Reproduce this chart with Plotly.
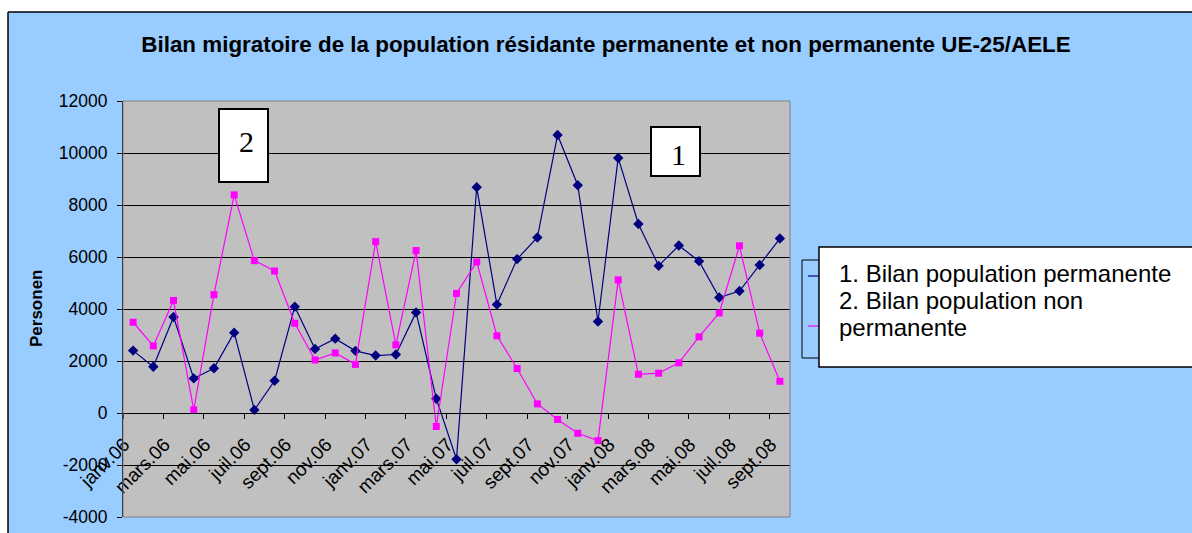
import plotly.graph_objects as go

months = ["janv.06", "févr.06", "mars.06", "avr.06", "mai.06", "juin.06", "juil.06", "août.06",
          "sept.06", "oct.06", "nov.06", "déc.06", "janv.07", "févr.07", "mars.07", "avr.07",
          "mai.07", "juin.07", "juil.07", "août.07", "sept.07", "oct.07", "nov.07", "déc.07",
          "janv.08", "févr.08", "mars.08", "avr.08", "mai.08", "juin.08", "juil.08", "août.08",
          "sept.08"]

permanent = [2400, 1780, 3690, 1330, 1720, 3090, 120, 1240, 4090, 2460, 2860, 2390, 2210,
             2250, 3870, 550, -1780, 8680, 4170, 5920, 6750, 10690, 8760, 3520, 9810, 7270,
             5660, 6440, 5840, 4440, 4690, 5690, 6710]
non_permanent = [3490, 2580, 4330, 120, 4550, 8390, 5860, 5460, 3450, 2040, 2310, 1870, 6590,
                 2620, 6250, -520, 4600, 5810, 2970, 1710, 350, -250, -780, -1060, 5120, 1490,
                 1530, 1930, 2930, 3850, 6430, 3070, 1220]

y_ticks = list(range(-4000, 12001, 2000))
title = "Bilan migratoire de la population résidante permanente et non permanente UE-25/AELE"
legend_lines = ["1. Bilan population permanente", "2. Bilan population non", "permanente"]

W, H = 1192, 533
L, R, T, B = 123, 790, 101, 517


def px(x):
    return (x - L) / (R - L)


def py(y):
    return (B - y) / (B - T)


fig = go.Figure()
fig.add_trace(go.Scatter(x=months, y=permanent, mode="lines+markers", name=legend_lines[0],
                         line=dict(color="#000080", width=1.2),
                         marker=dict(symbol="diamond", size=8, color="#000080")))
fig.add_trace(go.Scatter(x=months, y=non_permanent, mode="lines+markers", name="2. Bilan population non permanente",
                         line=dict(color="#FF00FF", width=1.2),
                         marker=dict(symbol="square", size=7, color="#FF00FF")))

shapes = [
    # white page outside the chart frame
    dict(type="rect", xref="paper", yref="paper", x0=px(-20), x1=px(W + 20), y0=py(12), y1=py(-20),
         fillcolor="white", line=dict(width=0)),
    dict(type="rect", xref="paper", yref="paper", x0=px(-20), x1=px(8), y0=py(-20), y1=py(H + 20),
         fillcolor="white", line=dict(width=0)),
    dict(type="line", xref="paper", yref="paper", x0=px(8), x1=px(W + 20), y0=py(12), y1=py(12),
         line=dict(color="black", width=1.5)),
    dict(type="line", xref="paper", yref="paper", x0=px(8), x1=px(8), y0=py(12), y1=py(H + 20),
         line=dict(color="black", width=1.5)),
    # plot frame
    dict(type="rect", xref="paper", yref="paper", x0=0, x1=1, y0=0, y1=1,
         line=dict(color="#808080", width=1)),
    # original small legend behind the text box
    dict(type="rect", xref="paper", yref="paper", x0=px(802), x1=px(840), y0=py(260), y1=py(358),
         line=dict(color="black", width=1)),
    dict(type="line", xref="paper", yref="paper", x0=px(808), x1=px(822), y0=py(276), y1=py(276),
         line=dict(color="#000080", width=1.2)),
    dict(type="line", xref="paper", yref="paper", x0=px(808), x1=px(822), y0=py(326), y1=py(326),
         line=dict(color="#FF00FF", width=1.2)),
    # text box legend
    dict(type="rect", xref="paper", yref="paper", x0=px(819), x1=px(W + 20), y0=py(247), y1=py(367),
         fillcolor="white", line=dict(color="black", width=1.5)),
    # series label boxes
    dict(type="rect", xref="paper", yref="paper", x0=px(219), x1=px(268), y0=py(109), y1=py(182),
         fillcolor="white", line=dict(color="black", width=2)),
    dict(type="rect", xref="paper", yref="paper", x0=px(651), x1=px(700), y0=py(127), y1=py(176),
         fillcolor="white", line=dict(color="black", width=2)),
]

annotations = [
    dict(text="2", x=px(246), y=py(141), xref="paper", yref="paper", showarrow=False,
         xanchor="center", yanchor="middle",
         font=dict(family="Liberation Serif", size=30, color="black")),
    dict(text="1", x=px(678), y=py(154), xref="paper", yref="paper", showarrow=False,
         xanchor="center", yanchor="middle",
         font=dict(family="Liberation Serif", size=30, color="black")),
    dict(text="<b>Personen</b>", x=px(36), y=py(309), xref="paper", yref="paper", showarrow=False,
         xanchor="center", yanchor="middle", textangle=-90,
         font=dict(family="Liberation Sans", size=17, color="black")),
]
for i, line in enumerate(legend_lines):
    annotations.append(dict(text=line, x=px(837), y=py(273 + 27 * i), xref="paper", yref="paper",
                            xanchor="left", yanchor="middle", showarrow=False,
                            font=dict(family="Liberation Sans", size=24, color="black")))

fig.update_layout(
    width=W, height=H,
    margin=dict(l=L, r=W - R, t=T, b=H - B, pad=0, autoexpand=False),
    paper_bgcolor="#99CCFF",
    plot_bgcolor="#C0C0C0",
    showlegend=False,
    title=dict(text="<b>" + title + "</b>", x=606 / W, y=1 - 44 / H, xref="container", yref="container",
               xanchor="center", yanchor="middle",
               font=dict(family="Liberation Sans", size=22.4, color="black")),
    shapes=shapes,
    annotations=annotations,
    font=dict(family="Liberation Sans", color="black"),
)
fig.update_xaxes(type="category", range=[-0.5, len(months) - 0.5], anchor="free", position=0.25,
                 automargin=False, showline=True, linecolor="black", linewidth=1, ticks="outside",
                 ticklen=5, tickcolor="black", tickson="boundaries", dtick=2, tickangle=-45,
                 ticklabelshift=-9, ticklabelstandoff=12, showgrid=False, zeroline=False,
                 tickfont=dict(family="Liberation Sans", size=19, color="black"))
fig.update_yaxes(range=[-4000, 12000], tickvals=y_ticks, ticktext=[str(v) for v in y_ticks],
                 automargin=False, showline=True, linecolor="black", linewidth=1, ticks="outside",
                 ticklen=5, tickcolor="black", showgrid=True, gridcolor="black", gridwidth=1,
                 zeroline=False, ticklabelstandoff=6,
                 tickfont=dict(family="Liberation Sans", size=17.5, color="black"))

fig.write_html("out.html", config={"displayModeBar": False},
               post_script="document.body.style.margin = '0px';")
